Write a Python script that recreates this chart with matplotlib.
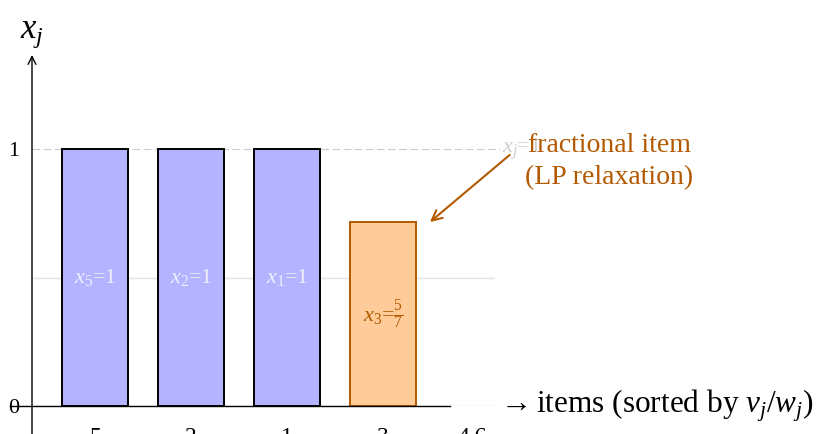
import numpy as np
import matplotlib.pyplot as plt

# greedy order of the items and their LP solution values
item_labels = ['5', '2', '1', '3']
item_pos = [1, 2, 3, 4]
x_values = [1, 1, 1, 5 / 7]
bar_labels = [r'$x_5$=1', r'$x_2$=1', r'$x_1$=1', r'$x_3$=$\frac{5}{7}$']
fractional = [False, False, False, True]

plt.rcParams['font.family'] = ['Liberation Serif', 'DejaVu Serif']
plt.rcParams['mathtext.fontset'] = 'custom'
plt.rcParams['mathtext.rm'] = 'Liberation Serif'
plt.rcParams['mathtext.it'] = 'Liberation Serif:italic'

blue_fill = '#b3b3ff'
orange_fill = '#ffcc99'
orange_dark = '#b35900'

fig = plt.figure(figsize=(8.19, 4.34), dpi=100)
ax = fig.add_axes([32 / 819, 28 / 434, 463 / 819, 351 / 434])
ax.set_xlim(0.344, 5.167)
ax.set_ylim(0, 1.366)

# light horizontal guides
for yv in [0, 0.5]:
    ax.axhline(yv, color='#e4e4e4', lw=1.0, zorder=0)
ax.axhline(1, color='#cccccc', lw=0.8, ls=(0, (7, 3)), xmax=1.01, clip_on=False, zorder=0)
ax.text(5.24, 1, r'$x_j$=1', color='#cdcdcd', fontsize=16, va='center', ha='left', zorder=1)

for xp, val, frac in zip(item_pos, x_values, fractional):
    ax.bar(xp, val, width=0.68,
           color=orange_fill if frac else blue_fill,
           edgecolor=orange_dark if frac else 'black',
           linewidth=1.4, zorder=2)

for xp, val, lab, frac in zip(item_pos, x_values, bar_labels, fractional):
    ax.text(xp, val / 2, lab, ha='center', va='center', fontsize=16,
            color=orange_dark if frac else '#eeeeff', zorder=3)

# axes drawn by hand: y axis with an arrow, x baseline
for s in ax.spines.values():
    s.set_visible(False)
ax.annotate('', xy=(0.344, 1.366), xytext=(0.344, -0.11),
            arrowprops=dict(arrowstyle='->', lw=1.0, color='black',
                            shrinkA=0, shrinkB=0, mutation_scale=14),
            annotation_clip=False, zorder=4)
ax.plot([0.115, 4.70], [0, 0], color='black', lw=1.0, clip_on=False, zorder=4)

ax.set_yticks([0, 1])
ax.set_yticklabels(['0', '1'], fontsize=16)
ax.tick_params(axis='y', length=0, pad=9)
ax.set_xticks(item_pos + [4.93])
ax.set_xticklabels(item_labels + ['4.6'], fontsize=17)
ax.tick_params(axis='x', length=0, pad=15)

ax.text(0.344, 1.45, r'$x_j$', fontsize=25, ha='center', va='center', clip_on=False)
ax.text(1.003, 0, r'$\rightarrow$items (sorted by $v_j/w_j$)', transform=ax.transAxes,
        fontsize=22.5, ha='left', va='center', clip_on=False)

ax.text(6.36, 0.951, 'fractional item\n(LP relaxation)', ha='center', va='center',
        fontsize=20, color=orange_dark, linespacing=1.4, zorder=5)
ax.annotate('', xy=(4.49, 0.716), xytext=(5.32, 0.977), annotation_clip=False, zorder=5,
            arrowprops=dict(arrowstyle='->', color=orange_dark, lw=1.5,
                            mutation_scale=18, shrinkA=0, shrinkB=0))

fig.savefig('out.png', dpi=100)
